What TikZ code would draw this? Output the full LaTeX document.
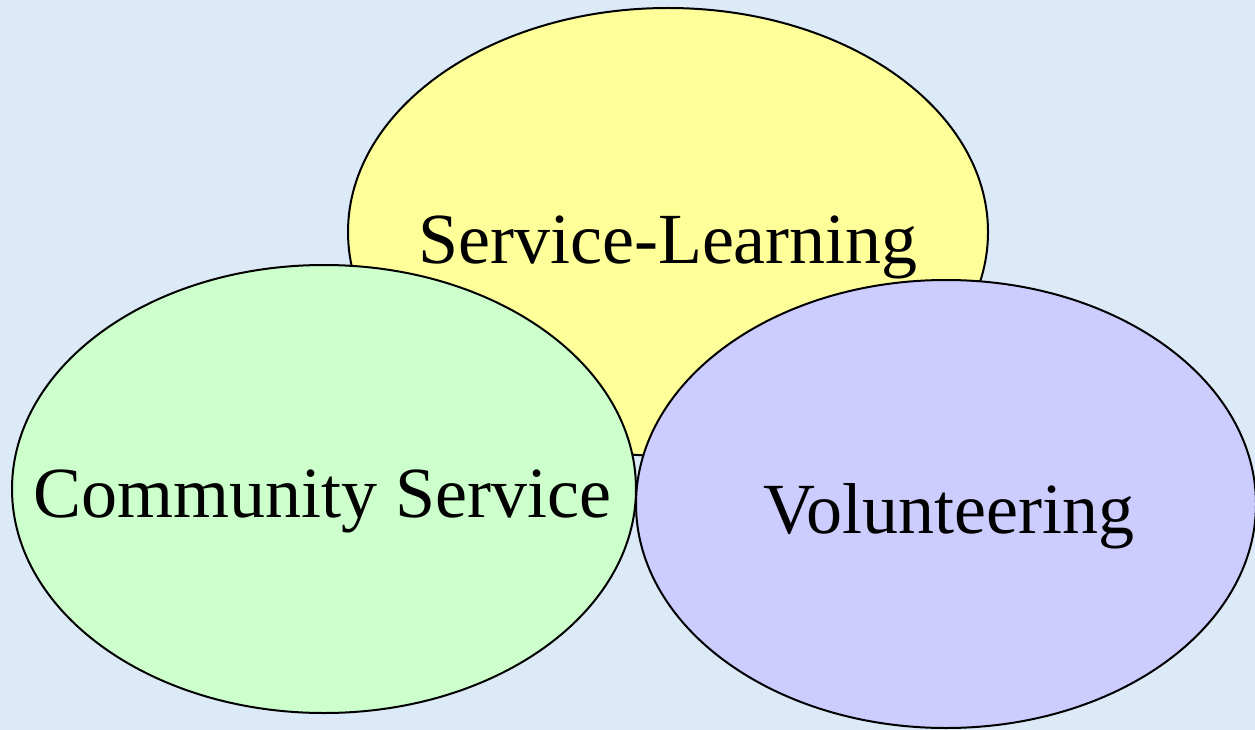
\documentclass[tikz,border=0pt]{standalone}
\usepackage{fontspec}
\setmainfont{Liberation Serif}
\usetikzlibrary{shapes.geometric}
\definecolor{bgblue}{HTML}{DCE9F7}
\definecolor{slyellow}{HTML}{FFFF99}
\definecolor{csgreen}{HTML}{CCFFCC}
\definecolor{volpurple}{HTML}{CCCCFF}
\tikzset{
  bubble/.style={ellipse, draw=black, line width=2pt, inner sep=0pt},
  lbl/.style={anchor=base, inner sep=0pt, font=\fontsize{72}{80}\selectfont}
}
\begin{document}
\begin{tikzpicture}[x=1pt,y=-1pt]
\fill[bgblue] (0,0) rectangle (1255,730);
\useasboundingbox (0,0) rectangle (1255,730);
\node[bubble, fill=slyellow, minimum width=640pt, minimum height=448pt] (sl) at (668,232) {};
\node[bubble, fill=csgreen, minimum width=624pt, minimum height=448pt] (cs) at (324,489) {};
\node[bubble, fill=volpurple, minimum width=620pt, minimum height=448pt] (vo) at (946,504) {};
\node[lbl] (slt) at (668,263) {Service-Learning};
\node[lbl] (cst) at (322,517) {Community Service};
\node[lbl] (vot) at (949,533) {Volunteering};
\end{tikzpicture}
\end{document}
